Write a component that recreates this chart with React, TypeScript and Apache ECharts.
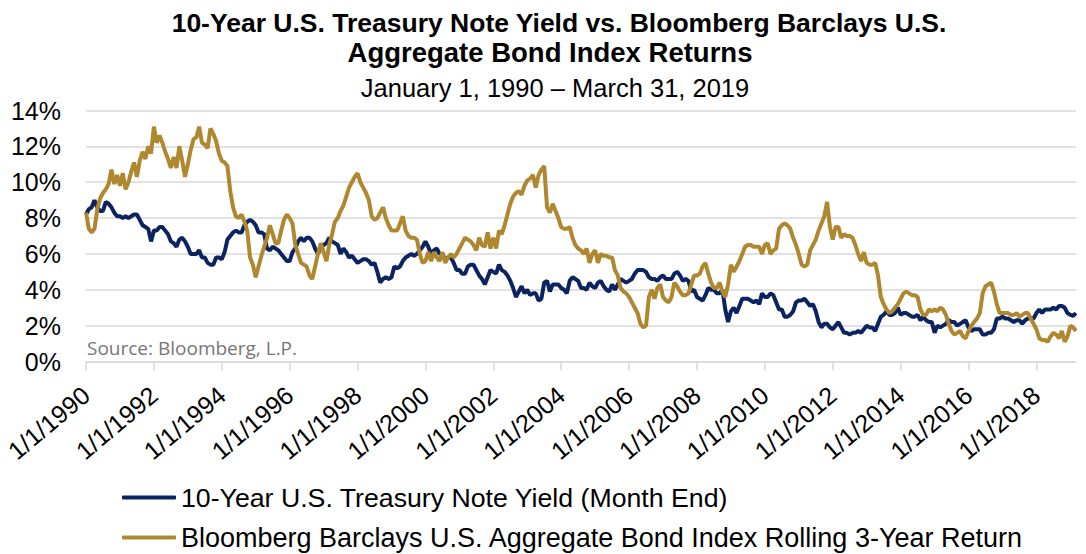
import { useEffect, useRef } from "react";
import * as echarts from "echarts";

const FONT = '"Liberation Sans", Arial, Helvetica, sans-serif';

const TITLE_LINE_1 = "10-Year U.S. Treasury Note Yield vs. Bloomberg Barclays U.S.";
const TITLE_LINE_2 = "Aggregate Bond Index Returns";
const SUBTITLE = "January 1, 1990 \u2013 March 31, 2019";
const SOURCE = "Source: Bloomberg, L.P.";

const SERIES_NAMES = [
  "10-Year U.S. Treasury Note Yield (Month End)",
  "Bloomberg Barclays U.S. Aggregate Bond Index Rolling 3-Year Return",
];

const FIRST_YEAR = 1990;
const MONTH_COUNT = 351; // Jan 1990 .. Mar 2019

const categories: string[] = [];
for (let i = 0; i < MONTH_COUNT; i++) {
  const y = FIRST_YEAR + Math.floor(i / 12);
  const m = (i % 12) + 1;
  categories.push(`${m}/1/${y}`);
}

const yAxisTicks = [0, 2, 4, 6, 8, 10, 12, 14];

// 10-Year U.S. Treasury Note Yield (month end), %
const treasuryYield = [
  8.2, 8.5, 8.6, 9.0, 8.6, 8.4, 8.4, 8.9, 8.8, 8.6, 8.3, 8.1,
  8.1, 8.0, 8.1, 8.0, 8.1, 8.2, 8.2, 7.9, 7.6, 7.5, 7.4, 6.7,
  7.3, 7.3, 7.5, 7.5, 7.3, 7.1, 6.7, 6.6, 6.4, 6.8, 6.9, 6.7,
  6.4, 6.0, 6.0, 6.0, 6.2, 5.8, 5.8, 5.5, 5.4, 5.4, 5.8, 5.8,
  5.7, 6.1, 6.8, 7.0, 7.2, 7.3, 7.2, 7.2, 7.6, 7.8, 7.9, 7.8,
  7.6, 7.2, 7.2, 7.1, 6.3, 6.2, 6.4, 6.3, 6.2, 6.0, 5.8, 5.6,
  5.6, 6.1, 6.3, 6.7, 6.9, 6.7, 6.9, 6.9, 6.7, 6.3, 6.0, 6.4,
  6.5, 6.6, 6.9, 6.7, 6.6, 6.5, 6.0, 6.3, 6.1, 5.8, 5.9, 5.7,
  5.5, 5.6, 5.7, 5.7, 5.6, 5.4, 5.5, 5.0, 4.4, 4.6, 4.7, 4.6,
  4.7, 5.3, 5.2, 5.3, 5.6, 5.8, 5.9, 6.0, 5.9, 6.0, 6.2, 6.4,
  6.7, 6.4, 6.0, 6.2, 6.3, 6.0, 6.0, 5.7, 5.8, 5.8, 5.5, 5.1,
  5.1, 4.9, 4.9, 5.3, 5.4, 5.4, 5.1, 4.8, 4.6, 4.3, 4.7, 5.1,
  5.0, 4.9, 5.4, 5.1, 5.0, 4.8, 4.5, 4.1, 3.6, 3.9, 4.2, 3.8,
  4.0, 3.7, 3.8, 3.8, 3.4, 3.5, 4.4, 4.5, 3.9, 4.3, 4.3, 4.3,
  4.1, 4.0, 3.8, 4.5, 4.7, 4.6, 4.5, 4.1, 4.1, 4.0, 4.4, 4.2,
  4.1, 4.4, 4.5, 4.2, 4.0, 3.9, 4.3, 4.0, 4.3, 4.6, 4.5, 4.4,
  4.5, 4.6, 4.9, 5.1, 5.1, 5.1, 5.0, 4.7, 4.6, 4.6, 4.5, 4.7,
  4.8, 4.6, 4.6, 4.6, 4.9, 5.0, 4.8, 4.5, 4.6, 4.5, 3.9, 4.0,
  3.6, 3.5, 3.4, 3.7, 4.1, 4.0, 4.0, 3.8, 3.8, 4.0, 2.9, 2.2,
  2.8, 3.0, 2.7, 3.1, 3.5, 3.5, 3.5, 3.4, 3.3, 3.4, 3.2, 3.8,
  3.6, 3.6, 3.8, 3.7, 3.3, 2.9, 2.9, 2.5, 2.5, 2.6, 2.8, 3.3,
  3.4, 3.4, 3.5, 3.3, 3.1, 3.2, 2.8, 2.2, 1.9, 2.1, 2.1, 1.9,
  1.8, 2.0, 2.2, 1.9, 1.6, 1.6, 1.5, 1.6, 1.6, 1.7, 1.6, 1.8,
  2.0, 1.9, 1.9, 1.7, 2.1, 2.5, 2.6, 2.8, 2.6, 2.6, 2.7, 3.0,
  2.6, 2.7, 2.7, 2.6, 2.5, 2.5, 2.6, 2.3, 2.5, 2.3, 2.2, 2.2,
  1.6, 2.0, 1.9, 2.0, 2.1, 2.3, 2.2, 2.2, 2.0, 2.1, 2.2, 2.3,
  1.9, 1.7, 1.8, 1.8, 1.8, 1.5, 1.5, 1.6, 1.6, 1.8, 2.4, 2.4,
  2.5, 2.4, 2.4, 2.3, 2.2, 2.3, 2.3, 2.1, 2.3, 2.4, 2.4, 2.4,
  2.7, 2.9, 2.7, 2.9, 2.9, 2.9, 3.0, 2.9, 3.1, 3.1, 3.0, 2.7,
  2.6, 2.55, 2.7,
];

// Bloomberg Barclays U.S. Aggregate Bond Index rolling 3-year return, %
const aggregateReturn = [
  8.3, 7.4, 7.2, 7.4, 8.5, 9.1, 9.4, 9.6, 9.9, 10.7, 9.9, 10.4,
  9.8, 10.5, 9.6, 10.0, 10.6, 11.1, 10.3, 11.2, 11.7, 11.3, 12.0, 11.6,
  13.1, 12.2, 12.6, 12.2, 11.7, 11.3, 10.8, 11.4, 10.8, 12.0, 11.2, 10.3,
  11.0, 11.8, 12.4, 12.5, 13.1, 12.2, 12.1, 11.9, 13.0, 12.7, 12.3, 11.6,
  11.2, 11.1, 10.9, 9.5, 8.6, 8.1, 8.0, 8.2, 7.8, 7.3, 5.8, 5.4,
  4.7, 5.3, 5.9, 6.4, 6.9, 7.6, 7.1, 6.6, 6.6, 7.3, 7.9, 8.2,
  8.0, 7.7, 6.5, 6.0, 5.5, 5.4, 5.3, 4.8, 4.6, 5.3, 6.0, 6.6,
  6.1, 5.6, 6.5, 7.1, 7.8, 8.0, 8.4, 8.7, 9.2, 9.7, 10.0, 10.3,
  10.5, 10.0, 9.7, 9.4, 9.0, 8.1, 7.9, 8.0, 8.3, 8.6, 8.0, 7.6,
  7.3, 7.3, 7.3, 7.7, 8.1, 7.3, 7.0, 6.9, 6.9, 6.8, 6.0, 5.5,
  5.6, 6.1, 5.6, 6.1, 5.8, 5.6, 6.1, 5.5, 5.8, 6.0, 5.8, 6.0,
  6.3, 6.6, 6.9, 6.8, 6.7, 6.5, 6.2, 6.9, 6.5, 6.4, 7.2, 6.3,
  6.9, 6.3, 7.3, 7.1, 7.6, 8.2, 8.8, 9.2, 9.4, 9.5, 9.3, 9.8,
  10.1, 10.2, 10.4, 9.7, 10.4, 10.7, 10.9, 8.6, 8.3, 8.8, 8.4, 8.0,
  7.5, 7.4, 7.4, 7.5, 6.9, 6.5, 6.3, 6.2, 6.0, 6.3, 5.5, 6.0,
  6.2, 5.5, 6.0, 5.9, 5.9, 5.8, 5.8, 5.1, 4.8, 4.1, 3.9, 3.8,
  3.6, 3.3, 3.0, 2.7, 2.1, 1.9, 2.0, 3.6, 4.0, 3.5, 4.1, 4.3,
  3.6, 3.4, 3.3, 3.6, 4.4, 4.2, 3.9, 3.7, 3.7, 3.8, 4.3, 4.8,
  4.8, 4.9, 5.3, 5.5, 4.9, 4.4, 4.1, 4.1, 4.4, 3.9, 3.6, 4.3,
  5.4, 5.0, 5.3, 5.6, 6.0, 6.4, 6.5, 6.5, 6.4, 6.4, 6.4, 6.0,
  6.5, 6.6, 6.0, 6.2, 6.3, 7.4, 7.6, 7.7, 7.6, 7.4, 6.9, 6.5,
  6.0, 5.4, 5.3, 5.4, 6.2, 6.5, 6.8, 7.3, 7.7, 8.1, 8.9, 7.5,
  6.8, 7.5, 7.5, 6.9, 7.1, 7.0, 7.0, 6.9, 6.5, 6.0, 5.6, 6.1,
  5.5, 5.4, 5.4, 5.5, 4.8, 3.6, 3.2, 2.9, 2.7, 2.8, 3.0, 3.2,
  3.5, 3.8, 3.9, 3.8, 3.7, 3.7, 3.6, 2.9, 2.6, 2.6, 2.9, 2.8,
  2.9, 2.8, 3.0, 2.9, 2.6, 2.1, 1.7, 1.5, 1.6, 1.7, 1.4, 1.3,
  1.7, 2.0, 2.2, 2.4, 2.7, 3.8, 4.2, 4.3, 4.4, 3.9, 3.2, 2.7,
  2.7, 2.7, 2.7, 2.6, 2.6, 2.7, 2.5, 2.6, 2.7, 2.7, 2.4, 2.1,
  1.8, 1.3, 1.2, 1.2, 1.1, 1.4, 1.6, 1.5, 1.3, 1.7, 1.1, 1.4,
  2.0, 1.9, 1.7,
];

const NAVY = "#0B2461";
const GOLD = "#AF872F";
const GRID_GRAY = "#D9D9D9";

export default function App() {
  const ref = useRef<HTMLDivElement>(null);

  useEffect(() => {
    if (!ref.current) return;
    const chart = echarts.init(ref.current, null, { renderer: "svg" });
    const titleStyle = { fontFamily: FONT, fontSize: 26.5, fontWeight: "bold" as const, color: "#000" };
    const legendBase = {
      orient: "horizontal",
      left: 122,
      padding: 0,
      itemWidth: 54,
      itemHeight: 4,
      icon: "roundRect",
    };
    chart.setOption({
      animation: false,
      backgroundColor: "#fff",
      textStyle: { fontFamily: FONT },
      title: [
        { text: TITLE_LINE_1, left: 559, top: 9, textAlign: "center", padding: 0, textStyle: titleStyle },
        {
          text: TITLE_LINE_2, left: 550, top: 38, textAlign: "center", padding: 0,
          textStyle: { ...titleStyle, fontSize: 27.5 },
        },
        {
          text: SUBTITLE, left: 555, top: 75, textAlign: "center", padding: 0,
          textStyle: { fontFamily: FONT, fontSize: 25.5, fontWeight: "normal", color: "#000" },
        },
      ],
      grid: { left: 86, right: 10, top: 110.5, bottom: 192.5, outerBoundsMode: "none", containLabel: false },
      xAxis: {
        type: "category",
        data: categories,
        boundaryGap: false,
        axisLine: { lineStyle: { color: GRID_GRAY, width: 1.5 } },
        axisTick: { show: true, interval: 23, length: 9, lineStyle: { color: GRID_GRAY, width: 1.5 } },
        axisLabel: { interval: 23, rotate: 40, margin: 30, fontSize: 25, color: "#000", fontFamily: FONT },
        splitLine: { show: false },
      },
      yAxis: {
        type: "value",
        min: yAxisTicks[0],
        max: yAxisTicks[yAxisTicks.length - 1],
        interval: 2,
        axisLine: { show: false },
        axisTick: { show: false },
        axisLabel: { formatter: "{value}%", fontSize: 25, color: "#000", margin: 25, fontFamily: FONT },
        splitLine: { lineStyle: { color: GRID_GRAY, width: 1.5 } },
      },
      legend: [
        {
          ...legendBase, top: 484, data: [SERIES_NAMES[0]],
          textStyle: { fontSize: 26.7, color: "#000", fontFamily: FONT },
        },
        {
          ...legendBase, top: 524, data: [SERIES_NAMES[1]],
          textStyle: { fontSize: 27, color: "#000", fontFamily: FONT },
        },
      ],
      graphic: [
        {
          type: "text",
          left: 87,
          top: 338,
          style: { text: SOURCE, fill: "#767676", font: '19px "Open Sans", sans-serif' },
        },
      ],
      series: [
        {
          name: SERIES_NAMES[0],
          type: "line",
          data: treasuryYield,
          symbol: "none",
          color: NAVY,
          lineStyle: { color: NAVY, width: 4 },
        },
        {
          name: SERIES_NAMES[1],
          type: "line",
          data: aggregateReturn,
          symbol: "none",
          color: GOLD,
          lineStyle: { color: GOLD, width: 4 },
        },
      ],
    });
    return () => chart.dispose();
  }, []);

  return (
    <div
      ref={ref}
      style={{ position: "absolute", left: 0, top: 0, width: 1086, height: 554, background: "#fff" }}
    />
  );
}
